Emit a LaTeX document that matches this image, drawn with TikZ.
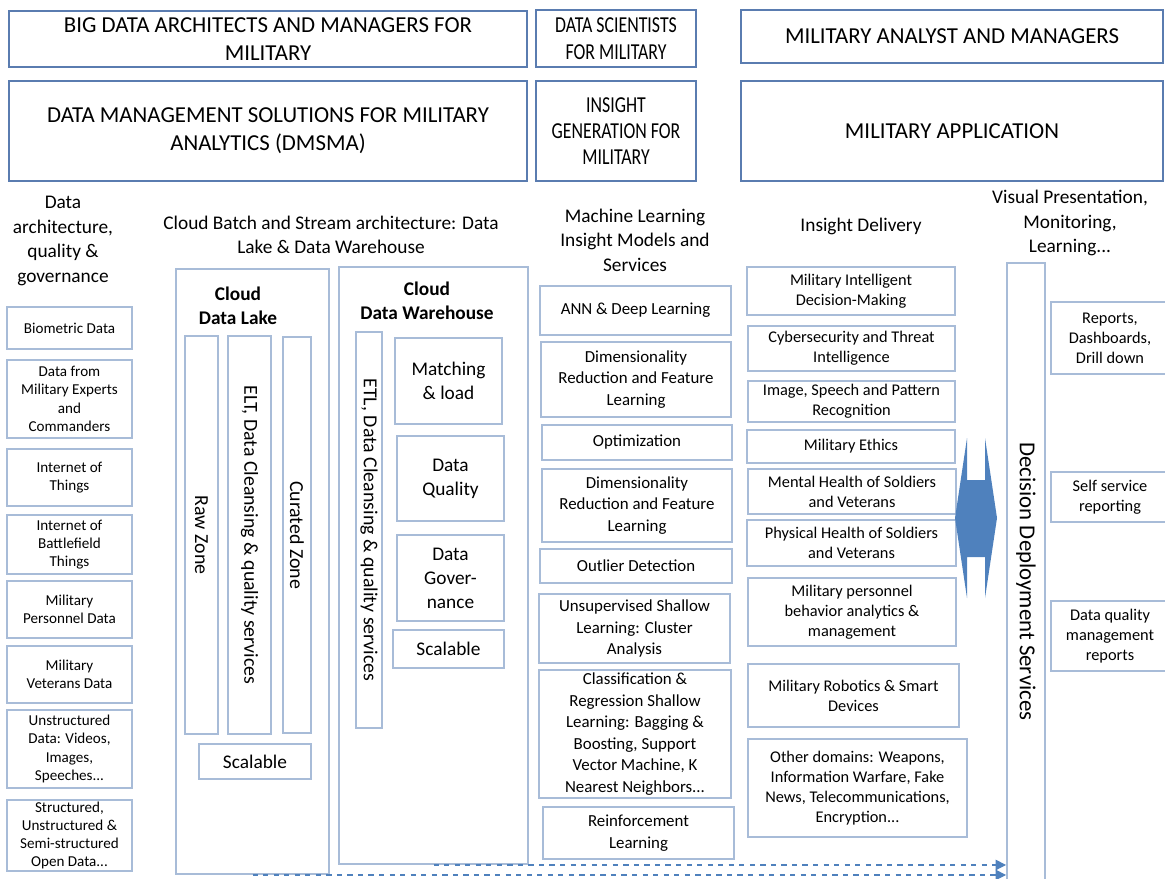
\documentclass[tikz,border=0pt]{standalone}
\usepackage{fontspec}
\setmainfont{Carlito}
\newfontfamily\narrowfont{Carlito}[FakeStretch=0.78]
\usetikzlibrary{arrows.meta}
\definecolor{headblue}{HTML}{5A7CB0}
\definecolor{cellblue}{HTML}{A8BCD8}
\definecolor{arrowblue}{HTML}{4F81BD}

\begin{document}
\begin{tikzpicture}[x=0.02cm, y=-0.02cm,
    head/.style 2 args={draw=headblue, line width=1.3pt, minimum width=#1*0.02cm, minimum height=#2*0.02cm, inner sep=0pt, align=center, font=\fontsize{13}{15.9}\selectfont},
    cell/.style 2 args={draw=cellblue, line width=1.1pt, minimum width=#1*0.02cm, minimum height=#2*0.02cm, inner sep=0pt, align=center},
    src/.style={font=\fontsize{8.6}{10.4}\selectfont},
    model/.style={font=\fontsize{9.6}{12.2}\selectfont},
    deliv/.style={font=\fontsize{9.3}{11.4}\selectfont},
    zone/.style={rotate=-90, font=\fontsize{11.3}{13.6}\selectfont},
    wbox/.style={font=\fontsize{11}{13.6}\selectfont},
    coltitle/.style={align=center, font=\fontsize{11}{13.9}\selectfont},
    boldtitle/.style={align=center, font=\bfseries\fontsize{11}{13.6}\selectfont},
    flow/.style={draw=arrowblue, dashed, line width=0.7pt, -{Triangle[length=6pt,width=6pt]}}]
  \useasboundingbox (0,0) rectangle (1165,878);

  % roles and layers
  \node[head={518}{56}] (archs) at (268,39) {BIG DATA ARCHITECTS AND MANAGERS FOR\\MILITARY};
  \node[head={160}{57}, font=\narrowfont\fontsize{13}{15.6}\selectfont] (scient) at (616,38.5) {DATA SCIENTISTS\\FOR MILITARY};
  \node[head={422}{53}] (analyst) at (952,36.5) {MILITARY ANALYST AND MANAGERS};
  \node[head={518}{100}] (dmsma) at (268,131) {DATA MANAGEMENT SOLUTIONS FOR MILITARY\\ANALYTICS (DMSMA)};
  \node[head={160}{100}, font=\narrowfont\fontsize{13}{14.7}\selectfont] (insight) at (616,131) {INSIGHT\\GENERATION FOR\\MILITARY};
  \node[head={422}{100}] (app) at (952,131) {MILITARY APPLICATION};

  % column titles
  \node[coltitle] (srctitle) at (63,241) {Data\\architecture,\\quality \&\\governance};
  \node[coltitle] (cloudtitle) at (331,235) {Cloud Batch and Stream architecture: Data\\Lake \& Data Warehouse};
  \node[coltitle] (mltitle) at (635,240) {Machine Learning\\Insight Models and\\Services};
  \node[coltitle] (delivtitle) at (861,226) {Insight Delivery};
  \node[coltitle] (vistitle) at (1070,223) {Visual Presentation,\\Monitoring,\\Learning...};

  % data sources
  \node[cell={125}{42}, src] (bio) at (69.5,328) {Biometric Data};
  \node[cell={125}{78}, src] (expert) at (69.5,399) {Data from\\Military Experts\\and\\Commanders};
  \node[cell={125}{57}, src] (iot) at (69.5,477.5) {Internet of\\Things};
  \node[cell={125}{59}, src] (iobt) at (69.5,544.5) {Internet of\\Battlefield\\Things};
  \node[cell={125}{57}, src] (pers) at (69.5,609.5) {Military\\Personnel Data};
  \node[cell={125}{57}, src] (vet) at (69.5,674.5) {Military\\Veterans Data};
  \node[cell={125}{78}, src] (unstr) at (69.5,749) {Unstructured\\Data: Videos,\\Images,\\Speeches...};
  \node[cell={125}{71}, src] (open) at (69.5,835.5) {Structured,\\Unstructured \&\\Semi-structured\\Open Data...};

  % data lake
  \node[cell={153}{605}] (lake) at (252.5,571.5) {};
  \node[boldtitle] (laketitle) at (238,306) {Cloud\\Data Lake};
  \node[cell={398}{33}, zone] (raw) at (201.5,535) {Raw Zone};
  \node[cell={398}{43}, zone] (elt) at (249.5,535) {ELT, Data Cleansing \& quality services};
  \node[cell={396}{28}, zone] (curated) at (297,535) {Curated Zone};
  \node[cell={112}{35}, wbox] (lakescal) at (255,761.5) {Scalable};

  % data warehouse
  \node[cell={189}{597}] (wh) at (433.5,565.5) {};
  \node[boldtitle] (whtitle) at (427,301) {Cloud\\Data Warehouse};
  \node[cell={396}{26}, zone] (etl) at (369,530) {ETL, Data Cleansing \& quality services};
  \node[cell={107}{86}, wbox] (match) at (448.5,381) {Matching\\\& load};
  \node[cell={107}{85}, wbox] (qual) at (450.5,478.5) {Data\\Quality};
  \node[cell={107}{86}, wbox] (gov) at (450.5,578) {Data\\Gover-\\nance};
  \node[cell={111}{38}, wbox] (whscal) at (448.5,649) {Scalable};

  % machine learning models
  \node[cell={191}{49}, model] (ann) at (635.5,310.5) {ANN \& Deep Learning};
  \node[cell={190}{75}, model] (dim1) at (636,379.5) {Dimensionality\\Reduction and Feature\\Learning};
  \node[cell={190}{35}, model] (opt) at (637,442.5) {Optimization};
  \node[cell={190}{73}, model] (dim2) at (637,505.5) {Dimensionality\\Reduction and Feature\\Learning};
  \node[cell={192}{34}, model] (outl) at (636,566) {Outlier Detection};
  \node[cell={191}{69}, model] (unsup) at (634.5,628.5) {Unsupervised Shallow\\Learning: Cluster\\Analysis};
  \node[cell={192}{128}, model] (clas) at (635,734) {Classification \&\\Regression Shallow\\Learning: Bagging \&\\Boosting, Support\\Vector Machine, K\\Nearest Neighbors...};
  \node[cell={191}{52}, model] (reinf) at (638.5,833) {Reinforcement\\Learning};

  % insight delivery
  \node[cell={208}{48}, deliv] (decide) at (851,291) {Military Intelligent\\Decision-Making};
  \node[cell={207}{45}, deliv] (cyber) at (851.5,348.5) {Cybersecurity and Threat\\Intelligence};
  \node[cell={207}{41}, deliv] (image) at (851.5,401.5) {Image, Speech and Pattern\\Recognition};
  \node[cell={208}{33}, deliv] (ethics) at (851,446.5) {Military Ethics};
  \node[cell={208}{45}, deliv] (mental) at (852,491.5) {Mental Health of Soldiers\\and Veterans};
  \node[cell={209}{46}, deliv] (phys) at (851.5,543) {Physical Health of Soldiers\\and Veterans};
  \node[cell={208}{68}, deliv] (behav) at (852,612) {Military personnel\\behavior analytics \&\\management};
  \node[cell={211}{63}, deliv] (robot) at (853.5,695.5) {Military Robotics \& Smart\\Devices};
  \node[cell={219}{98}, deliv] (other) at (857.5,788) {Other domains: Weapons,\\Information Warfare, Fake\\News, Telecommunications,\\Encryption...};

  % deployment and presentation
  \node[cell={637}{38}, zone, font=\fontsize{13}{15.9}\selectfont] (dds) at (1026,581.5) {Decision Deployment Services};
  \node[cell={118}{72}, deliv] (reports) at (1110,338) {Reports,\\Dashboards,\\Drill down};
  \node[cell={118}{50}, deliv] (self) at (1110,497) {Self service\\reporting};
  \node[cell={118}{70}, deliv] (dqm) at (1110,636) {Data quality\\management\\reports};

  % two-way arrow
  \fill[arrowblue] (955,518) -- (967,438) -- (967,480) -- (985,480) -- (985,438) -- (997,518)
    -- (985,598) -- (985,557) -- (967,557) -- (967,598) -- cycle;

  \draw[flow] (wh.south) -- (wh.south -| dds.south);
  \draw[flow] (lake.south) -- (lake.south -| dds.south);
\end{tikzpicture}
\end{document}
